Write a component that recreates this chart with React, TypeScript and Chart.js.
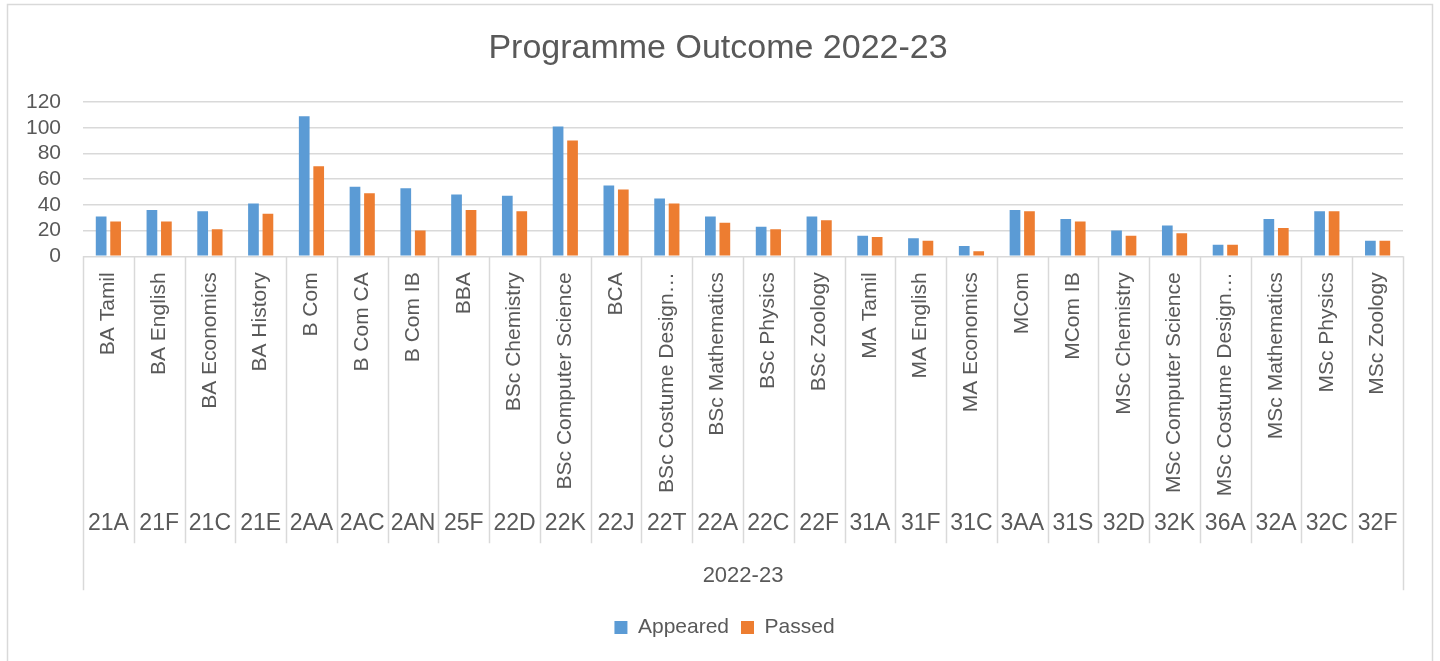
import React, { useEffect, useRef } from "react";
import { Chart, registerables } from "chart.js";

Chart.register(...registerables);

const TITLE = "Programme Outcome 2022-23";
const GROUP_LABEL = "2022-23";
const programmes = [
  "BA Tamil", "BA English", "BA Economics", "BA History", "B Com", "B Com CA", "B Com IB", "BBA",
  "BSc Chemistry", "BSc Computer Science", "BCA", "BSc Costume Design…", "BSc Mathematics",
  "BSc Physics", "BSc Zoology", "MA Tamil", "MA English", "MA Economics", "MCom", "MCom IB",
  "MSc Chemistry", "MSc Computer Science", "MSc Costume Design…", "MSc Mathematics", "MSc Physics", "MSc Zoology",
];
const codes = [
  "21A", "21F", "21C", "21E", "2AA", "2AC", "2AN", "25F", "22D", "22K", "22J", "22T", "22A",
  "22C", "22F", "31A", "31F", "31C", "3AA", "31S", "32D", "32K", "36A", "32A", "32C", "32F",
];
const appeared = [31, 36, 35, 41, 109, 54, 53, 48, 47, 101, 55, 45, 31, 23, 31, 16, 14, 8, 36, 29, 20, 24, 9, 29, 35, 12];
const passed = [27, 27, 21, 33, 70, 49, 20, 36, 35, 90, 52, 41, 26, 21, 28, 15, 12, 4, 35, 27, 16, 18, 9, 22, 35, 12];

const TEXT = "#595959";
const LINE = "#d9d9d9";
const FONT = "'Liberation Sans', Arial, sans-serif";
const NARROW = "'Liberation Sans Narrow', 'Liberation Sans', sans-serif";

const shiftPlugin = {
  id: "shiftBlocks",
  afterLayout(chart: any) {
    const shift = (box: any, center: number) => {
      if (!box) return;
      const dx = center - (box.left + box.right) / 2;
      box.left += dx;
      box.right += dx;
    };
    shift(chart.titleBlock, 718);
    shift(chart.legend, 724.5);
  },
};

const axisPlugin = {
  id: "multiLevelAxis",
  beforeDraw(chart: any) {
    const ctx = chart.ctx;
    ctx.save();
    ctx.strokeStyle = LINE;
    ctx.lineWidth = 1.5;
    ctx.strokeRect(7.5, 4.5, 1425, 700);
    ctx.restore();
  },
  afterDraw(chart: any) {
    const ctx = chart.ctx;
    const xs = chart.scales.x;
    const area = chart.chartArea;
    const n = programmes.length;
    ctx.save();
    ctx.strokeStyle = LINE;
    ctx.lineWidth = 1.5;
    for (let i = 0; i <= n; i++) {
      const x = Math.round(xs.getPixelForValue(i - 0.5)) + 0.5;
      const outer = i === 0 || i === n;
      ctx.beginPath();
      ctx.moveTo(x, area.bottom);
      ctx.lineTo(x, area.bottom + (outer ? 334 : 287));
      ctx.stroke();
    }
    ctx.fillStyle = TEXT;
    ctx.font = `21px ${FONT}`;
    for (let i = 0; i < n; i++) {
      const x = xs.getPixelForValue(i);
      ctx.save();
      ctx.translate(x, area.bottom + 16);
      ctx.rotate(-Math.PI / 2);
      ctx.textAlign = "right";
      ctx.textBaseline = "middle";
      ctx.fillText(programmes[i], 0, 0);
      ctx.restore();
    }
    ctx.font = `23px ${NARROW}`;
    ctx.textAlign = "center";
    ctx.textBaseline = "middle";
    for (let i = 0; i < n; i++) {
      ctx.fillText(codes[i], xs.getPixelForValue(i), area.bottom + 267);
    }
    ctx.font = `22px ${FONT}`;
    ctx.fillText(GROUP_LABEL, (area.left + area.right) / 2, area.bottom + 320);
    ctx.restore();
  },
};

export default function App() {
  const ref = useRef<HTMLCanvasElement | null>(null);
  useEffect(() => {
    if (!ref.current) return;
    const chart = new Chart(ref.current, {
      type: "bar",
      data: {
        labels: programmes,
        datasets: [
          { label: "Appeared", data: appeared, backgroundColor: "#5b9bd5", borderColor: "#5b9bd5", categoryPercentage: 0.57, barPercentage: 0.74 },
          { label: "Passed", data: passed, backgroundColor: "#ed7d31", borderColor: "#ed7d31", categoryPercentage: 0.57, barPercentage: 0.74 },
        ],
      },
      options: {
        animation: false,
        responsive: true,
        maintainAspectRatio: false,
        layout: { padding: { top: 0, right: 37, bottom: 13, left: 0 } },
        plugins: {
          title: {
            display: true,
            text: TITLE,
            color: TEXT,
            font: { family: FONT, size: 34, weight: "normal" },
            padding: { top: 28, bottom: 33.2 },
          },
          legend: {
            position: "bottom",
            labels: {
              color: TEXT,
              font: { family: FONT, size: 21 },
              boxWidth: 13,
              boxHeight: 13,
              padding: 12,
            },
          },
          tooltip: { enabled: false },
        },
        scales: {
          x: {
            grid: { display: false },
            border: { display: false },
            ticks: { display: false },
            afterFit: (s: any) => { s.height = 348.7; },
          },
          y: {
            min: 0,
            max: 120,
            ticks: { stepSize: 20, autoSkip: false, color: TEXT, font: { family: FONT, size: 21 }, padding: 22 },
            grid: { color: LINE, lineWidth: 1.5, drawTicks: false },
            border: { display: false },
            afterFit: (s: any) => { s.width = 83; },
          },
        },
      },
      plugins: [shiftPlugin, axisPlugin],
    });
    return () => chart.destroy();
  }, []);
  return (
    <div style={{ position: "fixed", left: 0, top: 0, width: 1440, height: 661, background: "#fff" }}>
      <canvas ref={ref} />
    </div>
  );
}
